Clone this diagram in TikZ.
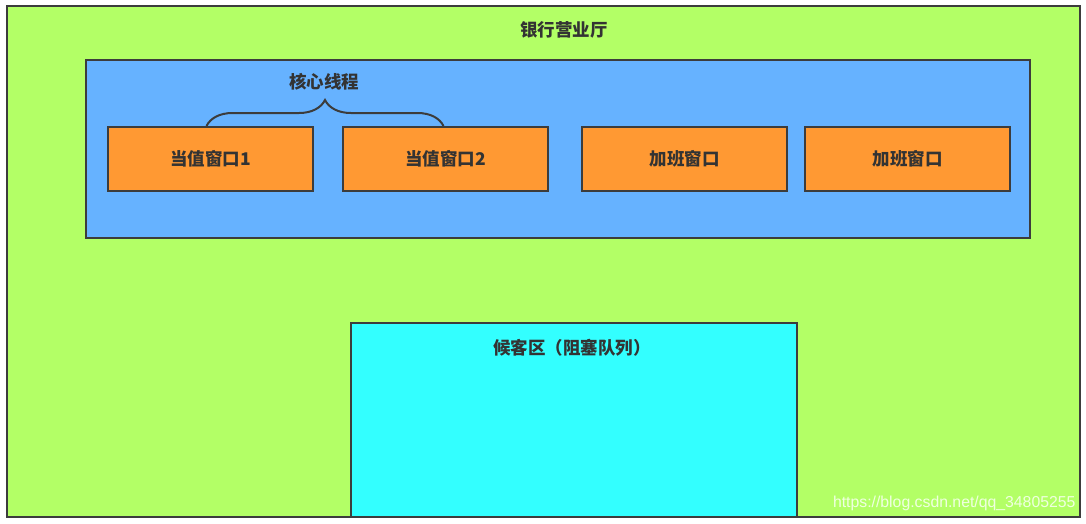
\documentclass[tikz,border=0pt]{standalone}
\usepackage{fontspec}
\newfontfamily\cjk{Noto Sans CJK SC}
\setmainfont{Liberation Sans}
\usetikzlibrary{decorations.pathreplacing}
\definecolor{hallgreen}{HTML}{B3FF66}
\definecolor{poolblue}{HTML}{66B2FF}
\definecolor{winorange}{HTML}{FF9933}
\definecolor{queuecyan}{HTML}{33FFFF}
\definecolor{edgegray}{HTML}{3C3C3C}
\definecolor{txtgray}{HTML}{333333}
\tikzset{
  box/.style={draw=edgegray,line width=2pt,inner sep=0pt},
  window/.style={box,fill=winorange,minimum width=205pt,minimum height=64pt,
    font=\cjk\bfseries\fontsize{17.5}{17.5}\selectfont,text=txtgray},
  caption/.style={font=\cjk\bfseries\fontsize{17.5}{17.5}\selectfont,text=txtgray}
}

\begin{document}
\begin{tikzpicture}[x=1pt,y=-1pt]
\useasboundingbox (0,0) rectangle (1086,523);
\draw[box,fill=hallgreen] (7,6) rectangle (1080,517);
\node[caption] (hall) at (564,30) {银行营业厅};
\draw[box,fill=poolblue] (86,60) rectangle (1030,238);
\node[window] (core1) at (210.5,159) {当值窗口1};
\node[window] (core2) at (445.5,159) {当值窗口2};
\node[window] (extra1) at (684.5,159) {加班窗口};
\node[window] (extra2) at (907.5,159) {加班窗口};
\draw[edgegray,line width=2pt,decorate,decoration={brace,amplitude=26pt}]
  ([xshift=-4pt]core1.north) -- ([xshift=-2pt]core2.north);
\node[caption] (core) at (324,82) {核心线程};
\draw[box,fill=queuecyan] (351,323) rectangle (797,517);
\node[caption] (queue) at (572,348) {候客区（阻塞队列）};
\node[text=white,opacity=0.8,font=\fontsize{15.8}{15.8}\selectfont,anchor=east] (mark) at (1079,503) {https://blog.csdn.net/qq\_34805255};
\end{tikzpicture}
\end{document}
